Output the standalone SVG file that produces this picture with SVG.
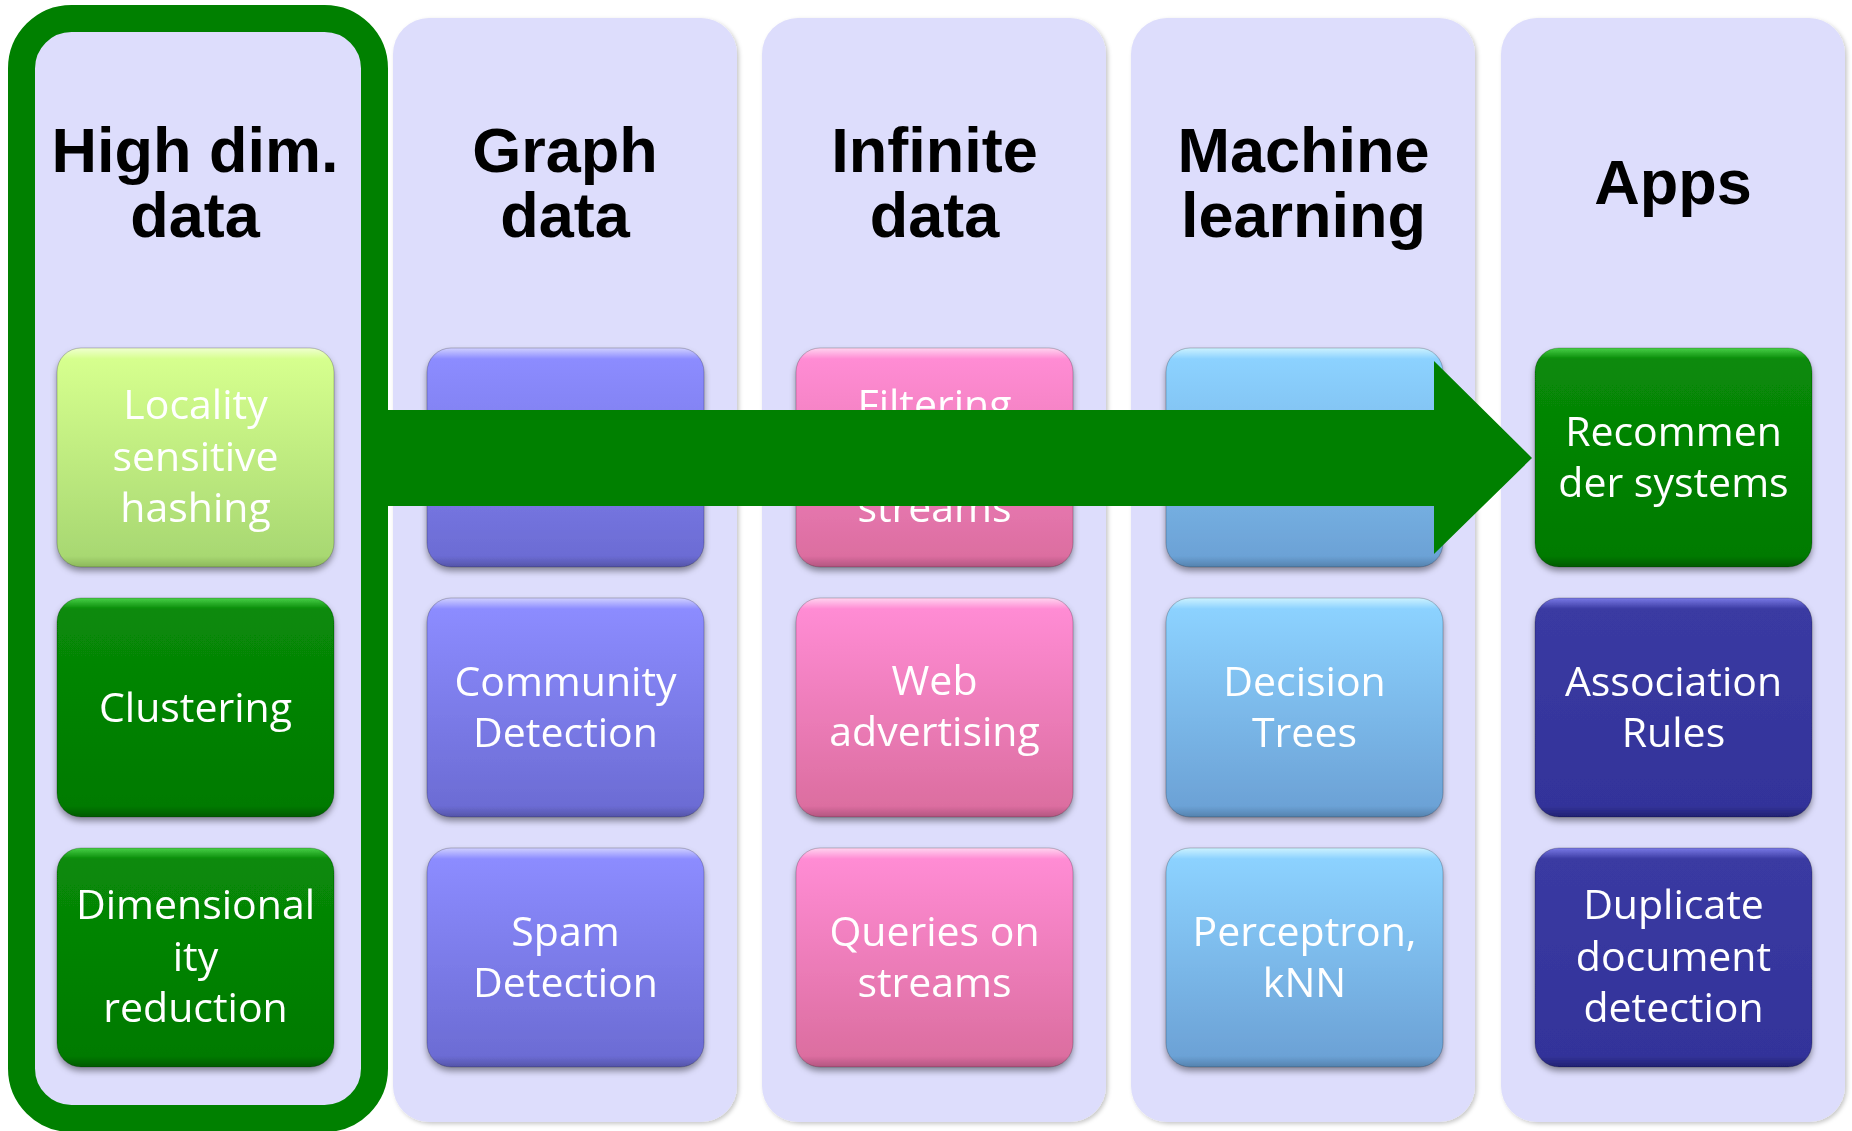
<svg xmlns="http://www.w3.org/2000/svg" width="1852" height="1131" viewBox="0 0 1852 1131">
  <defs>
    <style>
      .panel { fill: #DDDDFC; }
      .title { font-family: "Liberation Sans", Arial, sans-serif; font-weight: bold; font-size: 63px; fill: #000; text-anchor: middle; }
      .label { font-family: "Open Sans", "Noto Sans", sans-serif; font-size: 41px; fill: #FFFFFF; text-anchor: middle; }
      .box { stroke: rgba(0,0,0,0.22); stroke-width: 1; }
      .lime { fill: url(#gLime); }
      .green { fill: url(#gGreen); }
      .violet { fill: url(#gViolet); }
      .pink { fill: url(#gPink); }
      .sky { fill: url(#gSky); }
      .navy { fill: url(#gNavy); }
    </style>
    <filter id="panelShadow" x="-5%" y="-5%" width="110%" height="110%">
      <feDropShadow dx="2" dy="2" stdDeviation="2" flood-color="#000" flood-opacity="0.22"/>
    </filter>
    <filter id="boxShadow" x="-10%" y="-10%" width="120%" height="125%">
      <feDropShadow dx="0" dy="4" stdDeviation="3" flood-color="#000" flood-opacity="0.4"/>
    </filter>
    <linearGradient id="gLime" x1="0" y1="0" x2="0" y2="1">
      <stop offset="0" stop-color="#F0FFD0"/>
      <stop offset="0.05" stop-color="#D6FF8E"/>
      <stop offset="0.95" stop-color="#A8D872"/>
      <stop offset="1" stop-color="#8CB85C"/>
    </linearGradient>
    <linearGradient id="gGreen" x1="0" y1="0" x2="0" y2="1">
      <stop offset="0" stop-color="#48D048"/>
      <stop offset="0.05" stop-color="#088A08"/>
      <stop offset="0.95" stop-color="#007A00"/>
      <stop offset="1" stop-color="#005A00"/>
    </linearGradient>
    <linearGradient id="gViolet" x1="0" y1="0" x2="0" y2="1">
      <stop offset="0" stop-color="#D0D0FF"/>
      <stop offset="0.05" stop-color="#8C8CFF"/>
      <stop offset="0.95" stop-color="#6C6CD4"/>
      <stop offset="1" stop-color="#5454A8"/>
    </linearGradient>
    <linearGradient id="gPink" x1="0" y1="0" x2="0" y2="1">
      <stop offset="0" stop-color="#FFD4F0"/>
      <stop offset="0.05" stop-color="#FF8CD4"/>
      <stop offset="0.95" stop-color="#DC6EA0"/>
      <stop offset="1" stop-color="#B25580"/>
    </linearGradient>
    <linearGradient id="gSky" x1="0" y1="0" x2="0" y2="1">
      <stop offset="0" stop-color="#CCF2FF"/>
      <stop offset="0.05" stop-color="#8CD2FF"/>
      <stop offset="0.95" stop-color="#6CA2D6"/>
      <stop offset="1" stop-color="#5482AE"/>
    </linearGradient>
    <linearGradient id="gNavy" x1="0" y1="0" x2="0" y2="1">
      <stop offset="0" stop-color="#7A7AE6"/>
      <stop offset="0.05" stop-color="#3A3AA2"/>
      <stop offset="0.95" stop-color="#33339A"/>
      <stop offset="1" stop-color="#222272"/>
    </linearGradient>
  </defs>

  <rect x="0" y="0" width="1852" height="1131" fill="#FFFFFF"/>

  <!-- column panels -->
  <g id="col-high-dim">
    <rect class="panel" x="21.5" y="18.5" width="353" height="1100" rx="50" stroke="#008000" stroke-width="27"/>
    <text class="title" x="195" y="172">High dim.</text>
    <text class="title" x="195" y="237">data</text>
  </g>
  <g id="col-graph">
    <rect class="panel" x="393" y="18" width="344" height="1104" rx="36" filter="url(#panelShadow)"/>
    <text class="title" x="565" y="172">Graph</text>
    <text class="title" x="565" y="237">data</text>
  </g>
  <g id="col-infinite">
    <rect class="panel" x="762" y="18" width="344" height="1104" rx="36" filter="url(#panelShadow)"/>
    <text class="title" x="934.5" y="172">Infinite</text>
    <text class="title" x="934.5" y="237">data</text>
  </g>
  <g id="col-ml">
    <rect class="panel" x="1131" y="18" width="344" height="1104" rx="36" filter="url(#panelShadow)"/>
    <text class="title" x="1303.5" y="172">Machine</text>
    <text class="title" x="1303.5" y="237">learning</text>
  </g>
  <g id="col-apps">
    <rect class="panel" x="1501" y="18" width="344" height="1104" rx="36" filter="url(#panelShadow)"/>
    <text class="title" x="1673" y="204">Apps</text>
  </g>

  <!-- High dim. data topics -->
  <g id="node-lsh" filter="url(#boxShadow)">
    <rect class="box lime" x="57" y="348" width="277" height="219" rx="24"/>
    <text class="label" x="195.5" y="418.5">Locality</text>
    <text class="label" x="195.5" y="470.5">sensitive</text>
    <text class="label" x="195.5" y="521.5">hashing</text>
  </g>
  <g id="node-clustering" filter="url(#boxShadow)">
    <rect class="box green" x="57" y="598" width="277" height="219" rx="24"/>
    <text class="label" x="195.5" y="721.5">Clustering</text>
  </g>
  <g id="node-dimred" filter="url(#boxShadow)">
    <rect class="box green" x="57" y="848" width="277" height="219" rx="24"/>
    <text class="label" x="195.5" y="918.5">Dimensional</text>
    <text class="label" x="195.5" y="970.5">ity</text>
    <text class="label" x="195.5" y="1021.5">reduction</text>
  </g>

  <!-- Graph data topics -->
  <g id="node-graph-top" filter="url(#boxShadow)">
    <rect class="box violet" x="427" y="348" width="277" height="219" rx="24"/>
  </g>
  <g id="node-community" filter="url(#boxShadow)">
    <rect class="box violet" x="427" y="598" width="277" height="219" rx="24"/>
    <text class="label" x="565.5" y="695.5">Community</text>
    <text class="label" x="565.5" y="746.5">Detection</text>
  </g>
  <g id="node-spam" filter="url(#boxShadow)">
    <rect class="box violet" x="427" y="848" width="277" height="219" rx="24"/>
    <text class="label" x="565.5" y="945.5">Spam</text>
    <text class="label" x="565.5" y="996.5">Detection</text>
  </g>

  <!-- Infinite data topics -->
  <g id="node-filtering" filter="url(#boxShadow)">
    <rect class="box pink" x="796" y="348" width="277" height="219" rx="24"/>
    <text class="label" x="934.5" y="418.5">Filtering</text>
    <text class="label" x="934.5" y="521.5">streams</text>
  </g>
  <g id="node-webads" filter="url(#boxShadow)">
    <rect class="box pink" x="796" y="598" width="277" height="219" rx="24"/>
    <text class="label" x="934.5" y="694.5">Web</text>
    <text class="label" x="934.5" y="746">advertising</text>
  </g>
  <g id="node-queries" filter="url(#boxShadow)">
    <rect class="box pink" x="796" y="848" width="277" height="219" rx="24"/>
    <text class="label" x="934.5" y="945.5">Queries on</text>
    <text class="label" x="934.5" y="996.5">streams</text>
  </g>

  <!-- Machine learning topics -->
  <g id="node-ml-top" filter="url(#boxShadow)">
    <rect class="box sky" x="1166" y="348" width="277" height="219" rx="24"/>
  </g>
  <g id="node-trees" filter="url(#boxShadow)">
    <rect class="box sky" x="1166" y="598" width="277" height="219" rx="24"/>
    <text class="label" x="1304.5" y="695.5">Decision</text>
    <text class="label" x="1304.5" y="746.5">Trees</text>
  </g>
  <g id="node-perceptron" filter="url(#boxShadow)">
    <rect class="box sky" x="1166" y="848" width="277" height="219" rx="24"/>
    <text class="label" x="1304.5" y="945.5">Perceptron,</text>
    <text class="label" x="1304.5" y="996.5">kNN</text>
  </g>

  <!-- Apps topics -->
  <g id="node-recommender" filter="url(#boxShadow)">
    <rect class="box green" x="1535" y="348" width="277" height="219" rx="24"/>
    <text class="label" x="1673.5" y="445.5">Recommen</text>
    <text class="label" x="1673.5" y="496.5">der systems</text>
  </g>
  <g id="node-association" filter="url(#boxShadow)">
    <rect class="box navy" x="1535" y="598" width="277" height="219" rx="24"/>
    <text class="label" x="1673.5" y="695.5">Association</text>
    <text class="label" x="1673.5" y="746.5">Rules</text>
  </g>
  <g id="node-duplicate" filter="url(#boxShadow)">
    <rect class="box navy" x="1535" y="848" width="277" height="219" rx="24"/>
    <text class="label" x="1673.5" y="918.5">Duplicate</text>
    <text class="label" x="1673.5" y="970.5">document</text>
    <text class="label" x="1673.5" y="1021.5">detection</text>
  </g>

  <!-- connectors -->
  <g id="connectors">
    <polygon points="375,410 1434,410 1434,361 1532,458 1434,554 1434,506 375,506" fill="#008000"/>
  </g>
</svg>
